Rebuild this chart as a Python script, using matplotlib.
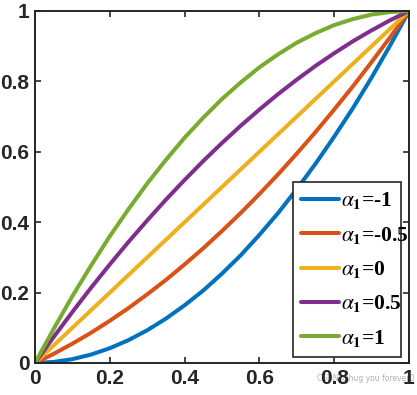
import matplotlib
matplotlib.use("Agg")
import matplotlib.pyplot as plt

x = [0, .05, .1, .15, .2, .25, .3, .35, .4, .45, .5, .55, .6, .65, .7, .75, .8, .85, .9, .95, 1]
y_m1 = [0, .003, .011, .024, .042, .065, .093, .126, .164, .206, .254, .306, .364, .426, .494, .566, .643, .724, .811, .903, 1]
y_m05 = [0, .026, .055, .086, .12, .156, .195, .236, .28, .326, .375, .426, .48, .536, .595, .656, .72, .786, .855, .926, 1]
y_0 = [0, .05, .1, .15, .2, .25, .3, .35, .4, .45, .5, .55, .6, .65, .7, .75, .8, .85, .9, .95, 1]
y_05 = [0, .074, .145, .214, .28, .344, .405, .464, .52, .574, .625, .674, .72, .764, .805, .844, .88, .914, .945, .974, 1]
y_1 = [0, .097, .19, .277, .36, .437, .51, .577, .64, .697, .75, .797, .84, .877, .91, .937, .96, .977, .99, .997, 1]

series = [y_m1, y_m05, y_0, y_05, y_1]
labels = [r'$\alpha_\mathbf{1}$=-1', r'$\alpha_\mathbf{1}$=-0.5', r'$\alpha_\mathbf{1}$=0',
          r'$\alpha_\mathbf{1}$=0.5', r'$\alpha_\mathbf{1}$=1']
colors = ['#0072BD', '#D95319', '#EDB120', '#7E2F8E', '#77AC30']

xticks = [0, 0.2, 0.4, 0.6, 0.8, 1]
xticklabels = ['0', '0.2', '0.4', '0.6', '0.8', '1']
yticks = [0, 0.2, 0.4, 0.6, 0.8, 1]
yticklabels = ['0', '0.2', '0.4', '0.6', '0.8', '1']

plt.rcParams['mathtext.fontset'] = 'stix'

fig = plt.figure(figsize=(4.17, 3.95), dpi=100)
ax = fig.add_axes([35/417, 32/395, 374/417, 352/395])

for ys, lab, c in zip(series, labels, colors):
    ax.plot(x, ys, color=c, lw=2.9, label=lab, solid_capstyle='round')

ax.set_xlim(0, 1)
ax.set_ylim(0, 1)
ax.set_xticks(xticks)
ax.set_xticklabels(xticklabels)
ax.set_yticks(yticks)
ax.set_yticklabels(yticklabels)
for lab in ax.get_xticklabels() + ax.get_yticklabels():
    lab.set_fontfamily('Liberation Sans')
    lab.set_fontweight('bold')
    lab.set_fontsize(15)
ax.tick_params(direction='in', length=4, width=1.2, color='#262626',
               top=True, right=True, pad=4, labelcolor='#262626')
for sp in ax.spines.values():
    sp.set_linewidth(1.4)
    sp.set_color('#262626')

leg = ax.legend(loc='lower left', bbox_to_anchor=(0.689, 0.016, 0.29, 0.51),
                mode='expand', frameon=True, fancybox=False, framealpha=1,
                edgecolor='#262626', handlelength=1.75, handletextpad=0.1,
                borderaxespad=0, labelspacing=0.62, borderpad=0.4,
                prop={'family': 'Liberation Serif', 'weight': 'bold', 'size': 15.5})
leg.get_frame().set_linewidth(1.2)

fig.text(0.76, 0.035, 'CSDN @hug you forever0', fontsize=5.5, color='#b0b0b0', zorder=-1)

fig.savefig('out.png', dpi=100)
